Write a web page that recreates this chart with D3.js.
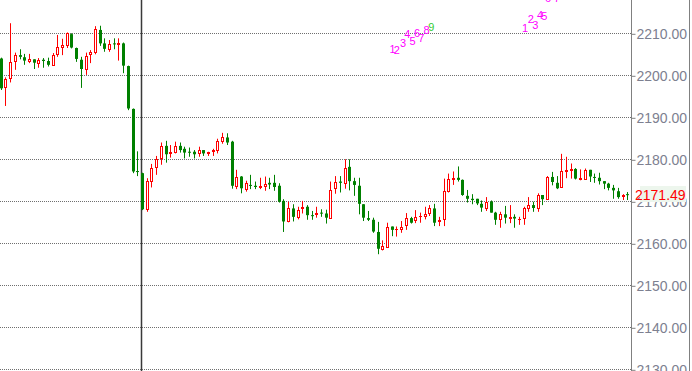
<!DOCTYPE html>
<html>
<head>
<meta charset="utf-8">
<script src="https://cdn.jsdelivr.net/npm/d3@7"></script>
<style>
  html, body { margin: 0; padding: 0; background: #fff; overflow: hidden; }
  svg { display: block; }
</style>
</head>
<body>
<script>
(function () {
  'use strict';

  var opens = [
    2204.0, 2197.3, 2199.3, 2203.5, 2204.8, 2204.3, 2203.3, 2203.8, 2203.0, 2203.7,
    2203.4, 2202.5, 2205.0, 2206.8, 2207.1, 2209.8, 2206.5, 2203.7, 2201.6, 2205.0,
    2205.6, 2210.8, 2207.6, 2206.3, 2207.6, 2207.5, 2207.6, 2202.2, 2192.0, 2177.2,
    2176.7, 2168.1, 2174.9, 2178.1, 2180.2, 2183.2, 2181.4, 2181.7, 2183.2, 2182.5,
    2181.8, 2181.8, 2181.6, 2182.2, 2181.4, 2182.0, 2182.1, 2184.4, 2185.2, 2184.2,
    2173.7, 2175.9, 2172.9, 2173.9, 2173.7, 2173.4, 2173.7, 2174.4, 2174.4, 2173.7,
    2170.1, 2165.2, 2168.3, 2166.3, 2168.3, 2168.7, 2166.7, 2167.0, 2167.3, 2167.1,
    2166.1, 2173.1, 2174.7, 2174.3, 2178.2, 2174.8, 2173.7, 2169.3, 2166.0, 2165.6,
    2162.7, 2158.7, 2159.1, 2164.0, 2163.3, 2163.3, 2164.4, 2166.0, 2165.6, 2166.4,
    2166.6, 2167.1, 2168.3, 2165.2, 2165.7, 2172.5, 2175.2, 2175.6, 2175.1, 2171.3,
    2170.6, 2170.6, 2169.4, 2168.5, 2169.9, 2167.3, 2165.7, 2166.9, 2166.0, 2166.3,
    2165.7, 2166.0, 2168.5, 2169.1, 2168.5, 2171.5, 2170.5, 2175.8, 2174.4, 2173.3,
    2177.1, 2177.4, 2177.7, 2175.4, 2175.4, 2177.5, 2175.8, 2175.6, 2174.8, 2174.2,
    2173.2, 2172.4, 2171.3, 2171.7
  ];
  var highs = [
    2204.2, 2199.5, 2212.4, 2205.4, 2206.2, 2205.1, 2205.1, 2203.8, 2204.1, 2204.1,
    2204.2, 2205.3, 2209.6, 2208.7, 2210.2, 2210.0, 2206.6, 2204.4, 2205.4, 2206.0,
    2211.7, 2211.8, 2208.8, 2208.4, 2208.8, 2208.8, 2207.8, 2202.3, 2192.1, 2181.9,
    2176.8, 2175.5, 2178.9, 2180.8, 2184.0, 2184.4, 2183.4, 2184.2, 2184.0, 2183.0,
    2182.8, 2182.2, 2183.0, 2182.2, 2181.8, 2182.5, 2184.9, 2186.3, 2186.2, 2184.4,
    2177.5, 2176.0, 2174.9, 2176.3, 2174.7, 2175.6, 2175.9, 2175.6, 2176.3, 2174.3,
    2170.5, 2169.9, 2169.3, 2168.7, 2170.1, 2169.1, 2167.7, 2168.7, 2168.1, 2168.0,
    2174.7, 2176.0, 2176.0, 2180.0, 2180.0, 2175.6, 2175.6, 2169.3, 2167.7, 2166.1,
    2165.1, 2160.7, 2164.9, 2164.0, 2164.0, 2165.3, 2167.2, 2166.3, 2167.9, 2167.3,
    2168.7, 2169.1, 2169.4, 2166.3, 2175.4, 2176.6, 2177.1, 2178.3, 2175.2, 2172.7,
    2171.7, 2170.6, 2170.2, 2171.0, 2170.2, 2167.5, 2167.5, 2168.9, 2169.1, 2166.9,
    2166.3, 2168.7, 2171.0, 2169.9, 2171.9, 2171.5, 2176.0, 2177.0, 2176.0, 2181.3,
    2180.6, 2179.0, 2177.9, 2177.6, 2177.8, 2177.5, 2176.6, 2176.8, 2174.8, 2174.4,
    2173.9, 2173.2, 2171.7, 2172.2
  ];
  var lows = [
    2196.5, 2192.7, 2198.3, 2201.3, 2203.8, 2202.5, 2202.9, 2201.5, 2201.8, 2201.8,
    2202.1, 2202.3, 2204.4, 2204.8, 2206.5, 2206.4, 2203.2, 2197.0, 2200.1, 2202.9,
    2205.0, 2207.0, 2205.6, 2205.6, 2206.2, 2203.5, 2200.5, 2191.7, 2176.7, 2176.0,
    2167.9, 2167.5, 2173.3, 2176.3, 2178.7, 2179.2, 2180.4, 2181.4, 2181.6, 2180.2,
    2180.6, 2180.2, 2180.6, 2180.8, 2180.8, 2180.8, 2181.4, 2183.7, 2183.4, 2173.0,
    2172.9, 2171.9, 2172.3, 2172.9, 2172.9, 2172.9, 2172.5, 2172.9, 2172.5, 2169.7,
    2162.7, 2165.0, 2165.2, 2165.7, 2167.1, 2165.6, 2165.6, 2166.1, 2166.3, 2164.7,
    2166.0, 2171.8, 2172.1, 2173.0, 2172.6, 2171.3, 2166.9, 2165.3, 2165.3, 2162.5,
    2157.4, 2158.3, 2159.0, 2161.7, 2161.6, 2162.5, 2163.2, 2164.7, 2164.8, 2164.9,
    2165.7, 2166.5, 2164.1, 2164.1, 2164.1, 2172.1, 2173.9, 2174.7, 2171.3, 2169.7,
    2169.3, 2169.1, 2167.5, 2167.7, 2167.3, 2164.4, 2163.7, 2164.7, 2164.8, 2163.7,
    2164.4, 2164.4, 2167.5, 2167.5, 2167.5, 2169.1, 2170.3, 2173.8, 2172.9, 2173.3,
    2175.5, 2175.4, 2175.2, 2175.0, 2175.2, 2174.6, 2174.4, 2174.0, 2172.9, 2172.6,
    2170.6, 2170.6, 2170.3, 2170.3
  ];
  var closes = [
    2196.9, 2199.0, 2203.1, 2204.8, 2204.4, 2203.5, 2203.8, 2203.0, 2203.6, 2203.4,
    2202.5, 2204.8, 2206.7, 2207.2, 2210.0, 2206.6, 2203.9, 2201.5, 2204.6, 2205.6,
    2211.0, 2207.6, 2206.3, 2207.4, 2207.5, 2207.7, 2202.3, 2192.1, 2177.1, 2177.0,
    2168.1, 2174.9, 2177.9, 2180.0, 2183.2, 2181.2, 2181.7, 2183.2, 2182.2, 2181.6,
    2181.6, 2181.2, 2182.2, 2181.4, 2181.8, 2182.1, 2184.4, 2185.2, 2184.0, 2173.7,
    2175.7, 2173.1, 2174.3, 2173.7, 2173.4, 2173.7, 2174.1, 2174.0, 2173.4, 2169.9,
    2165.2, 2168.3, 2166.3, 2167.9, 2168.7, 2166.7, 2166.5, 2167.2, 2167.1, 2166.1,
    2172.6, 2174.6, 2174.4, 2177.9, 2174.8, 2173.9, 2169.4, 2166.1, 2165.6, 2162.8,
    2158.7, 2159.3, 2164.0, 2163.2, 2163.5, 2163.9, 2166.0, 2164.9, 2166.2, 2166.6,
    2166.9, 2168.3, 2164.9, 2165.6, 2172.4, 2175.2, 2175.6, 2175.1, 2171.5, 2170.6,
    2170.3, 2169.5, 2168.5, 2169.9, 2167.3, 2165.6, 2166.9, 2166.1, 2166.3, 2165.9,
    2165.9, 2168.3, 2169.0, 2168.4, 2171.4, 2170.5, 2175.8, 2174.6, 2173.1, 2177.2,
    2177.5, 2177.7, 2175.4, 2175.6, 2177.5, 2175.9, 2175.6, 2174.8, 2174.2, 2173.2,
    2172.6, 2171.0, 2171.6, 2171.49
  ];

  var priceTicks = [2130, 2140, 2150, 2160, 2170, 2180, 2190, 2200, 2210];
  var dividerIndex = 30;

  // wave count labels: text, bar position, price level
  var waveTexts1 = ['1', '2', '3', '4', '5', '6', '7', '8', '9'];
  var waveIdx1 = [83.2, 84.1, 85.4, 86.3, 87.4, 88.4, 89.3, 90.4, 91.4];
  var wavePrice1 = [2206.2, 2206.0, 2207.6, 2209.8, 2208.2, 2210.1, 2209.0, 2210.8, 2211.6];
  var waveTexts2 = ['1', '2', '3', '4', '5', '6', '7'];
  var waveIdx2 = [111.3, 112.5, 113.5, 114.5, 115.4, 116.2, 118.1];
  var wavePrice2 = [2211.2, 2213.4, 2212.0, 2214.4, 2214.1, 2218.4, 2218.4];

  var W = 692, H = 371, axisX = 631;
  var UP = '#ff0000', DOWN = '#008000';

  var svg = d3.select('body').append('svg')
    .attr('width', W)
    .attr('height', H);

  var x = d3.scaleLinear().domain([0, opens.length - 1]).range([0.7, 627.3]);
  var y = d3.scaleLinear().domain([2130, 2210]).range([369.3, 33.3]);

  var bars = opens.map(function (o, i) {
    return { i: i, o: o, h: highs[i], l: lows[i], c: closes[i] };
  });

  // grid
  svg.append('g')
    .selectAll('line')
    .data(priceTicks)
    .enter()
    .append('line')
    .attr('x1', 0)
    .attr('x2', axisX)
    .attr('y1', function (d) { return Math.round(y(d)) + 0.5; })
    .attr('y2', function (d) { return Math.round(y(d)) + 0.5; })
    .attr('stroke', '#6f6f6f')
    .attr('stroke-dasharray', '1,1');

  // session divider
  svg.append('line')
    .attr('x1', Math.round(x(dividerIndex)) - 0.5)
    .attr('x2', Math.round(x(dividerIndex)) - 0.5)
    .attr('y1', 0)
    .attr('y2', H)
    .attr('stroke', '#3a3a3a')
    .attr('stroke-width', 1.5);

  // candles
  var g = svg.append('g');
  var candle = g.selectAll('g')
    .data(bars)
    .enter()
    .append('g');

  candle.append('line')
    .attr('x1', function (d) { return Math.round(x(d.i)) + 0.5; })
    .attr('x2', function (d) { return Math.round(x(d.i)) + 0.5; })
    .attr('y1', function (d) { return y(d.h); })
    .attr('y2', function (d) { return y(d.l); })
    .attr('stroke', function (d) { return d.c >= d.o ? UP : DOWN; });

  candle.filter(function (d) { return d.c < d.o; })
    .append('rect')
    .attr('x', function (d) { return Math.round(x(d.i)) - 1; })
    .attr('width', 3)
    .attr('y', function (d) { return y(d.o); })
    .attr('height', function (d) { return Math.max(1, y(d.c) - y(d.o)); })
    .attr('fill', DOWN);

  candle.filter(function (d) { return d.c >= d.o; })
    .append('rect')
    .attr('x', function (d) { return Math.round(x(d.i)) - 0.5; })
    .attr('width', 2)
    .attr('y', function (d) { return Math.round(y(d.c)) + 0.5; })
    .attr('height', function (d) { return Math.max(0.01, Math.round(y(d.o)) - Math.round(y(d.c))); })
    .attr('fill', '#fff')
    .attr('stroke', UP);

  // wave labels
  function drawWave(texts, idx, prices, colors) {
    svg.append('g')
      .selectAll('text')
      .data(texts)
      .enter()
      .append('text')
      .attr('x', function (d, i) { return x(idx[i]); })
      .attr('y', function (d, i) { return y(prices[i]); })
      .attr('text-anchor', 'middle')
      .attr('dominant-baseline', 'central')
      .attr('font-family', '"Liberation Sans", Arial, sans-serif')
      .attr('font-size', 11)
      .attr('fill', function (d, i) { return colors ? colors[i] : '#ff00ff'; })
      .text(function (d) { return d; });
  }
  drawWave(waveTexts1, waveIdx1, wavePrice1,
    ['#ff00ff', '#ff00ff', '#ff00ff', '#ff00ff', '#ff00ff', '#ff00ff', '#ff00ff', '#ff00ff', '#33cc33']);
  drawWave(waveTexts2, waveIdx2, wavePrice2);

  // price axis
  svg.append('rect')
    .attr('x', axisX)
    .attr('y', 0)
    .attr('width', W - axisX)
    .attr('height', H)
    .attr('fill', '#fff');

  var axis = d3.axisRight(y)
    .tickValues(priceTicks)
    .tickSize(4)
    .tickPadding(1)
    .tickFormat(d3.format('.2f'));

  var axisG = svg.append('g')
    .attr('transform', 'translate(' + (axisX + 0.5) + ',0.5)')
    .call(axis);
  axisG.select('.domain').remove();
  axisG.selectAll('line').attr('stroke', '#808080');
  axisG.selectAll('text')
    .attr('fill', '#7d8090')
    .attr('font-family', '"Liberation Sans", Arial, sans-serif')
    .attr('font-size', 14);

  svg.append('line')
    .attr('x1', axisX + 0.5).attr('x2', axisX + 0.5)
    .attr('y1', 0).attr('y2', H)
    .attr('stroke', '#808080');
  svg.append('line')
    .attr('x1', W - 2.5).attr('x2', W - 2.5)
    .attr('y1', 0).attr('y2', H)
    .attr('stroke', '#808080');

  // last price tag
  var last = closes[closes.length - 1];
  svg.append('rect')
    .attr('x', 640)
    .attr('y', y(last) - 9)
    .attr('width', 46)
    .attr('height', 16)
    .attr('fill', '#edf6ed');
  svg.append('text')
    .attr('x', axisX + 4)
    .attr('y', y(last))
    .attr('dominant-baseline', 'central')
    .attr('font-family', '"Liberation Sans", Arial, sans-serif')
    .attr('font-size', 14)
    .attr('fill', '#ff0000')
    .text(d3.format('.2f')(last));
}());
</script>
</body>
</html>
